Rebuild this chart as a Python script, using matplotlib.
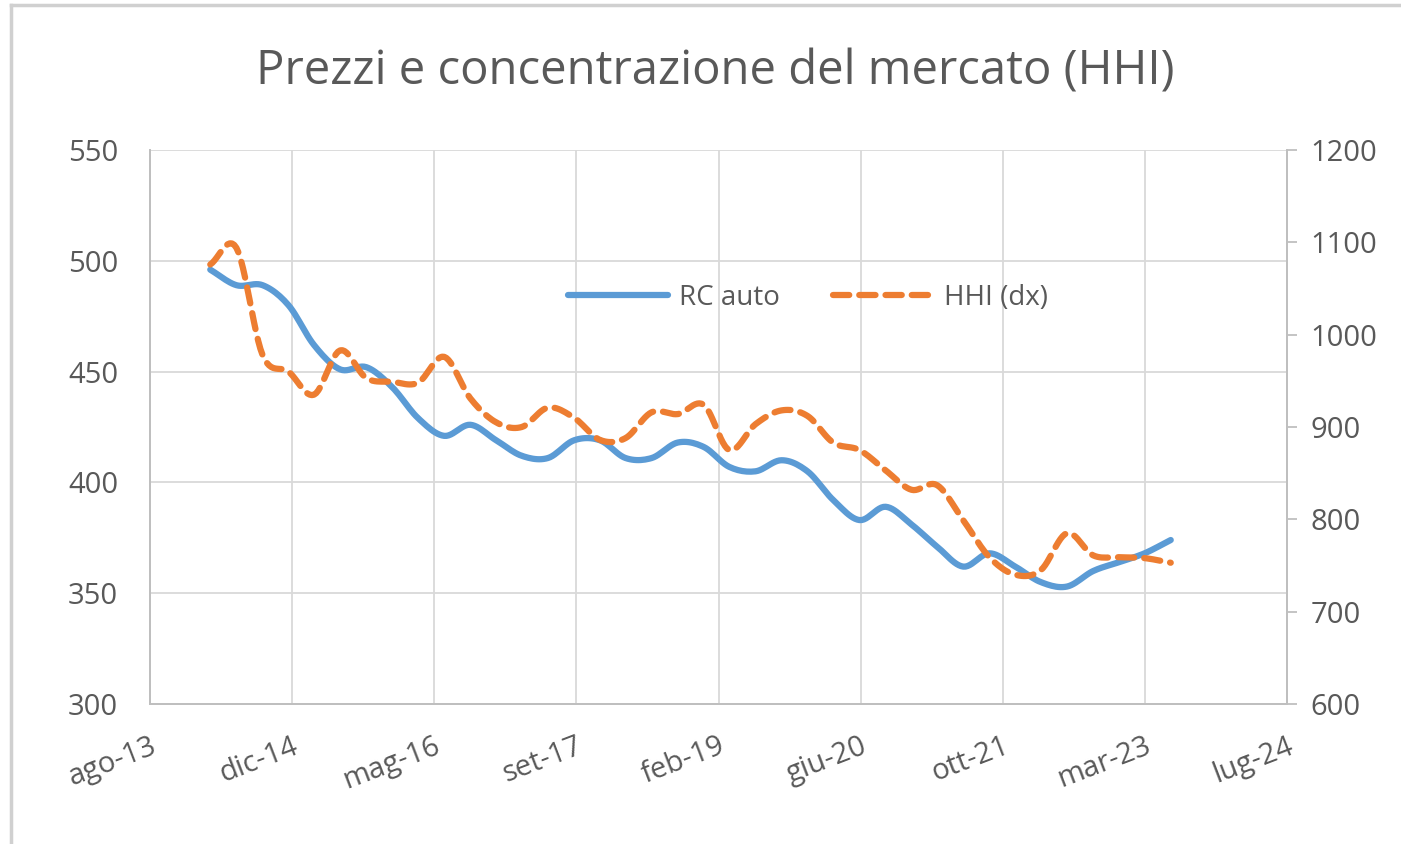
import numpy as np
import pandas as pd
import matplotlib
matplotlib.use("Agg")
import matplotlib.pyplot as plt
import matplotlib.dates as mdates
from matplotlib.lines import Line2D

plt.rcParams["font.family"] = ["Open Sans", "DejaVu Sans"]

# dati trimestrali
date = pd.date_range("2014-03-01", periods=38, freq="3MS")
rc_auto = [496, 489, 489, 480, 462, 451, 452, 443, 429, 421,
           426, 419, 412, 411, 419, 419, 411, 411, 418, 416,
           407, 405, 410, 405, 392, 383, 389, 381, 371, 362,
           368, 362, 355, 353, 360, 364, 368, 374]
hhi = [1076, 1094, 978, 960, 935, 983, 953, 949, 948, 976,
       931, 905, 900, 921, 910, 886, 888, 916, 914, 924,
       875, 903, 918, 912, 883, 875, 853, 832, 837, 799,
       759, 740, 745, 785, 761, 759, 758, 753]

tick_labels = ["ago-13", "dic-14", "mag-16", "set-17", "feb-19",
               "giu-20", "ott-21", "mar-23", "lug-24"]

GRAY = "#595959"
GRID = "#D9D9D9"


def smooth(x, y, n=12):
    # curva tipo "linea smussata" di Excel (Catmull-Rom)
    x = np.asarray(x, float)
    y = np.asarray(y, float)
    px = np.concatenate([[2 * x[0] - x[1]], x, [2 * x[-1] - x[-2]]])
    py = np.concatenate([[2 * y[0] - y[1]], y, [2 * y[-1] - y[-2]]])
    t = np.linspace(0, 1, n, endpoint=False)[:, None]
    out = []
    for p in (px, py):
        p0, p1, p2, p3 = p[:-3], p[1:-2], p[2:-1], p[3:]
        seg = 0.5 * ((2 * p1) + (-p0 + p2) * t + (2 * p0 - 5 * p1 + 4 * p2 - p3) * t ** 2
                     + (-p0 + 3 * p1 - 3 * p2 + p3) * t ** 3)
        out.append(np.concatenate([seg.T.ravel(), [p[-2]]]))
    return out[0], out[1]


xnum = mdates.date2num(date)
start = mdates.date2num(pd.Timestamp("2013-08-01"))
ticks = start + 500 * np.arange(len(tick_labels))

fig = plt.figure(figsize=(14.01, 8.44), dpi=100)
ax = fig.add_axes([150 / 1401, 1 - 704 / 844, (1287 - 150) / 1401, (704 - 150) / 844])
ax2 = ax.twinx()

xb, yb = smooth(xnum, rc_auto)
xo, yo = smooth(xnum, hhi)
l1, = ax.plot(xb, yb, color="#5B9BD5", lw=4.5, solid_capstyle="round", label="RC auto")
l2, = ax2.plot(xo, yo, color="#ED7D31", lw=4.5, dashes=(2.6, 1.6), dash_capstyle="round",
               label="HHI (dx)")

ax.set_xlim(ticks[0], ticks[-1])
ax.set_ylim(300, 550)
ax2.set_ylim(600, 1200)
ax.set_yticks(np.arange(300, 551, 50))
ax2.set_yticks(np.arange(600, 1201, 100))
ax.set_xticks(ticks)
ax.set_xticklabels(tick_labels, rotation=21, ha="right", rotation_mode="anchor")

ax.grid(True, color=GRID, lw=1.3)
ax.set_axisbelow(True)
for a in (ax, ax2):
    a.spines["top"].set_visible(False)
    for s in ("left", "right", "bottom"):
        a.spines[s].set_color("#BFBFBF")
        a.spines[s].set_linewidth(1.3)
ax.tick_params(axis="y", length=0, labelsize=21, labelcolor=GRAY, pad=23)
ax.tick_params(axis="x", length=0, labelsize=21, labelcolor=GRAY, pad=20)
ax2.tick_params(axis="y", length=7, width=1.3, color="#BFBFBF", labelsize=21,
                labelcolor=GRAY, pad=10)

fig.text(715 / 1401, 1 - 72 / 844, "Prezzi e concentrazione del mercato (HHI)",
         ha="center", va="center", fontsize=34, color=GRAY)

leg = ax.legend(handles=[l1, l2], loc="center", bbox_to_anchor=(808 / 1401, 1 - 298 / 844),
                bbox_transform=fig.transFigure, ncol=2, frameon=False, fontsize=20,
                handlelength=3.6, columnspacing=1.9, handletextpad=0.4)
for t in leg.get_texts():
    t.set_color(GRAY)

# cornice dell'area grafico (solo lati sinistro e superiore visibili)
fig.add_artist(Line2D([11 / 1401, 11 / 1401], [0, 1 - 5 / 844], transform=fig.transFigure,
                      color="#D0D0D0", lw=2.5))
fig.add_artist(Line2D([11 / 1401, 1], [1 - 5 / 844, 1 - 5 / 844], transform=fig.transFigure,
                      color="#D0D0D0", lw=2.5))

fig.savefig("out.png", dpi=100)
